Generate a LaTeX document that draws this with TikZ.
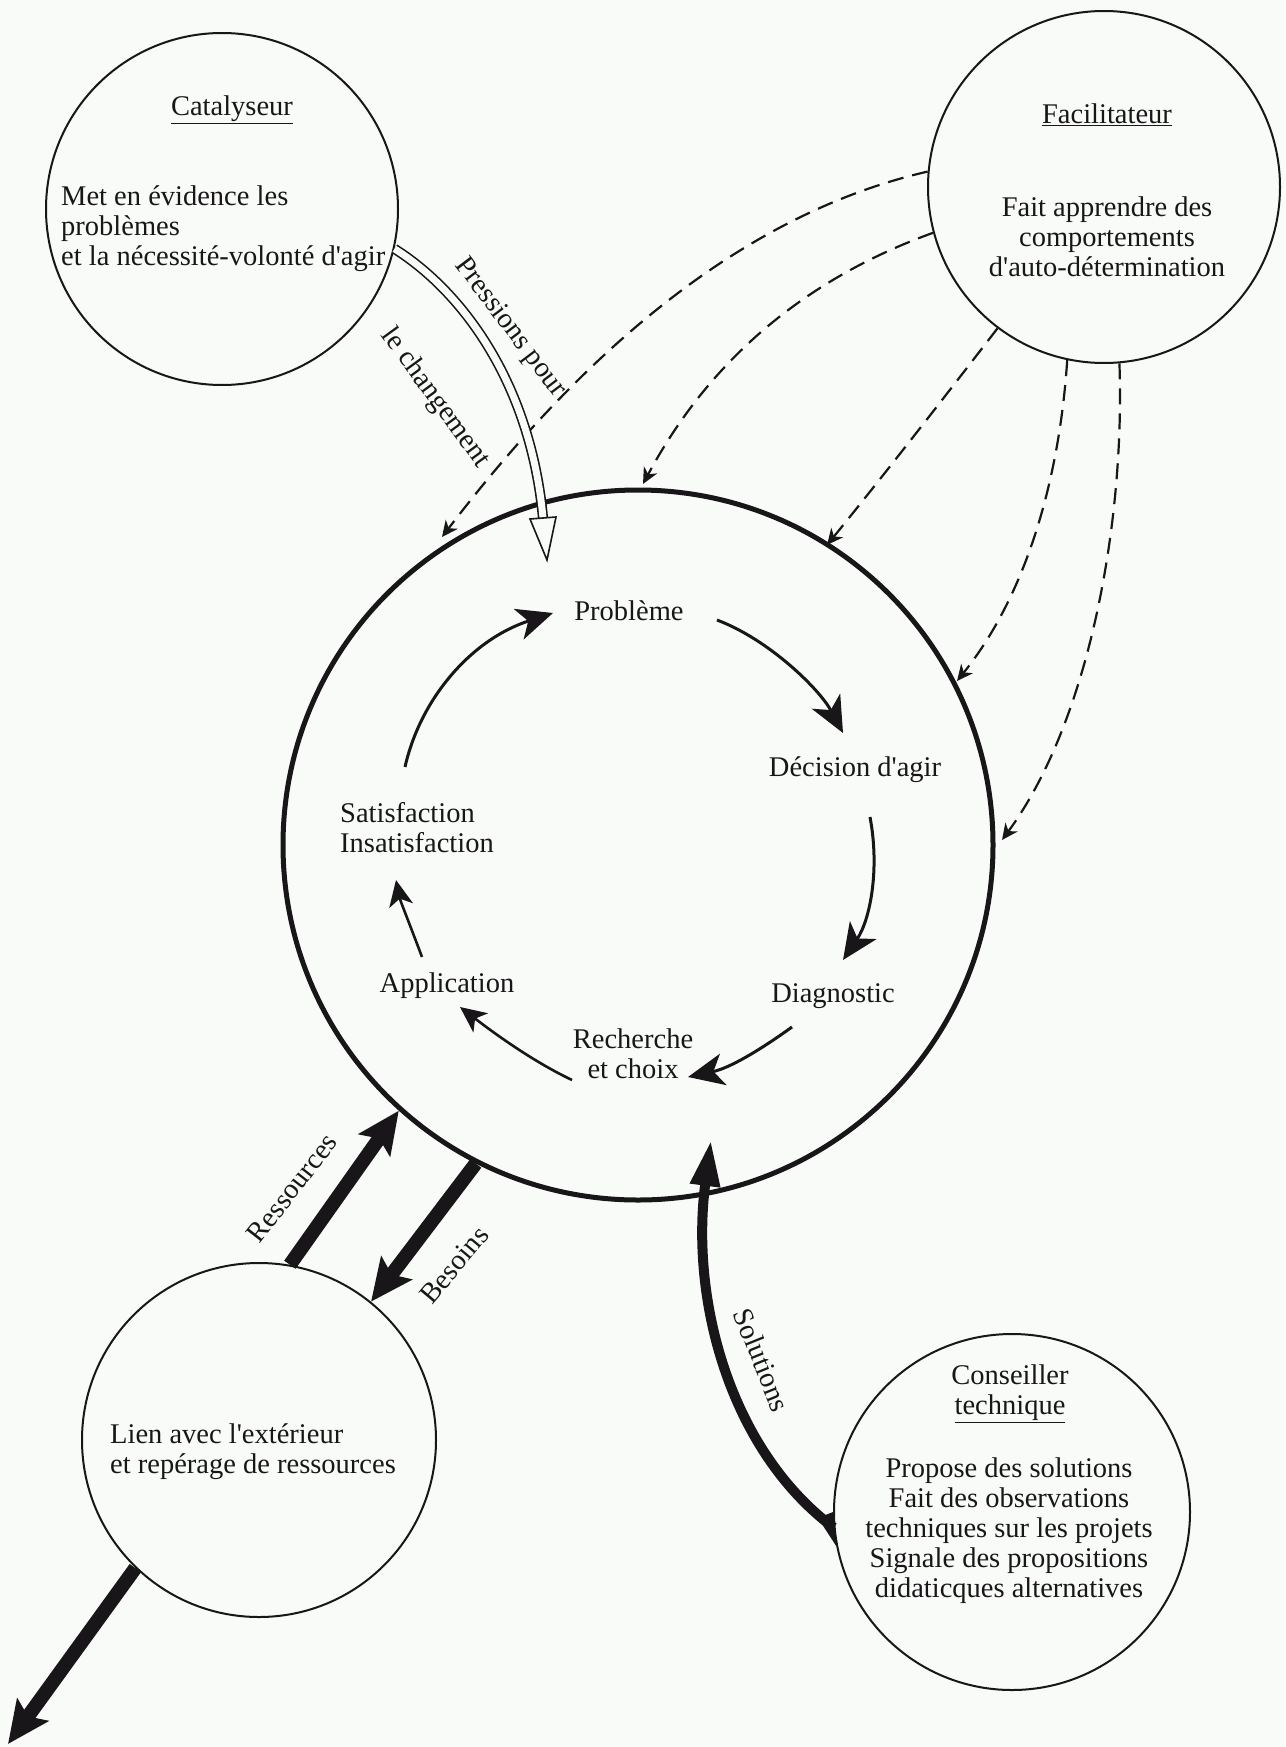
\documentclass[tikz,border=0pt]{standalone}
\usepackage{fontspec}
\setmainfont{Liberation Serif}[Ligatures=TeXOff]
\usetikzlibrary{arrows.meta}
\definecolor{ink}{RGB}{24,22,24}
\definecolor{paper}{RGB}{248,251,247}
\begin{document}
\begin{tikzpicture}[x=1pt,y=-1pt,
  txt/.style={font=\fontsize{28.5}{30}\selectfont, text=ink, inner sep=0pt, align=center},
  role/.style={circle, draw=ink, line width=2pt, minimum size=352pt, inner sep=0pt},
  cyc/.style={draw=ink, line width=3pt, -{Stealth[length=36pt,width=32pt,inset=10pt]}},
  cycs/.style={draw=ink, line width=2.6pt, -{Stealth[length=26pt,width=24pt,inset=7pt]}},
  infl/.style={draw=ink, line width=2.2pt, dash pattern=on 16pt off 9pt, -{Stealth[length=16pt,width=15pt,inset=5pt]}},
  flow/.style={draw=ink, line width=14pt, -{Stealth[length=42pt,width=38pt,inset=8pt]}},
  sol/.style={draw=ink, line width=10pt, -{Triangle[length=46pt,width=28pt]}}
]
\useasboundingbox (0,0) rectangle (1285,1747);
\fill[paper] (0,0) rectangle (1285,1747);

% circles
\node[circle, draw=ink, line width=5pt, minimum size=710pt, inner sep=0pt] (main) at (638,845) {};
\node[role] (cat) at (222,209) {};
\node[role] (fac) at (1104,187) {};
\node[role, minimum size=356pt] (cons) at (1012,1512) {};
\node[role, minimum size=354pt] (lien) at (259,1440) {};

% texts in role circles
\node[txt, anchor=base] (catT) at (232,116) {\underline{Catalyseur}};
\node[txt, align=left, anchor=west] (catD) at (61,229) {Met en évidence les\\problèmes\\et la nécessité-volonté d'agir};
\node[txt, anchor=base] (facT) at (1107,124) {\underline{Facilitateur}};
\node[txt] (facD) at (1107,237) {Fait apprendre des\\comportements\\d'auto-détermination};
\node[txt] (consT) at (1010,1394) {Conseiller\\\underline{technique}};
\node[txt] (consD) at (1009,1531) {Propose des solutions\\Fait des observations\\techniques sur les projets\\Signale des propositions\\didaticques alternatives};
\node[txt, align=left, anchor=west] (lienD) at (110,1452) {Lien avec l'extérieur\\et repérage de ressources};

% cycle texts
\node[txt] (prob) at (629,611) {Problème};
\node[txt] (dec) at (855,770) {Décision d'agir};
\node[txt] (diag) at (833,996) {Diagnostic};
\node[txt] (rech) at (633,1054) {Recherche\\et choix};
\node[txt] (appl) at (447,986) {Application};
\node[txt, align=left, anchor=west] (sat) at (340,828) {Satisfaction\\Insatisfaction};

% cycle arrows
\coordinate (a1s) at (405,767); \coordinate (a1e) at (553,613);
\coordinate (a2s) at (717,620); \coordinate (a2e) at (843,733);
\coordinate (a3s) at (870,817); \coordinate (a3e) at (843,960);
\coordinate (a4s) at (792,1027); \coordinate (a4e) at (688,1077);
\coordinate (a5s) at (572,1080); \coordinate (a5e) at (460,1007);
\coordinate (a6s) at (422,957); \coordinate (a6e) at (396,880);
\draw[cyc] (a1s) .. controls (420,700) and (470,640) .. (a1e);
\draw[cyc] (a2s) .. controls (770,640) and (820,690) .. (a2e);
\draw[cyc] (a3s) .. controls (880,870) and (870,920) .. (a3e);
\draw[cyc] (a4s) .. controls (760,1050) and (730,1068) .. (a4e);
\draw[cycs] (a5s) .. controls (530,1060) and (490,1030) .. (a5e);
\draw[cycs] (a6s) .. controls (410,925) and (400,900) .. (a6e);

% dashed influences from Facilitateur
\coordinate (d1) at (442,537);
\coordinate (d2) at (643,484);
\coordinate (d3) at (827,545);
\coordinate (d4) at (957,681);
\coordinate (d5) at (1002,840);
\draw[infl] (fac.175) .. controls (760,210) and (600,330) .. (d1);
\draw[infl] (fac.195) .. controls (830,270) and (720,340) .. (d2);
\draw[infl] (fac.233) .. controls (950,390) and (880,480) .. (d3);
\draw[infl] (fac.258) .. controls (1060,470) and (1030,590) .. (d4);
\draw[infl] (fac.275) .. controls (1125,520) and (1090,720) .. (d5);

% Pressions pour le changement (hollow double arrow)
\coordinate (pB) at (543,518);
\coordinate (pT) at (547,560);
\draw[draw=ink, line width=1.6pt, double=paper, double distance=7pt] (cat.-13) .. controls (460,290) and (530,380) .. (pB);
\draw[draw=ink, line width=1.6pt, fill=paper, line join=miter] (556,517) -- (pT) -- (530,519) -- cycle;
\node[txt, rotate=-53] (lp1) at (510,328) {Pressions pour};
\node[txt, rotate=-54] (lp2) at (435,398) {le changement};

% Ressources / Besoins
\draw[flow] (lien.80) -- (main.228);
\draw[flow] (main.243) -- (lien.51);
\node[txt, rotate=52] (lres) at (292,1188) {Ressources};
\node[txt, rotate=50] (lbes) at (454,1265) {Besoins};

% Solutions
\coordinate (solT) at (711,1140);
\draw[sol] (cons.185) .. controls (730,1450) and (690,1300) .. (solT);
\fill[ink] (cons.180) -- (cons.191) -- (818,1518) -- cycle;
\node[txt, rotate=-68] (lsol) at (762,1360) {Solutions};

% outward arrow
\coordinate (out) at (8,1744);
\draw[flow] (lien.226) -- (out);
\end{tikzpicture}
\end{document}
